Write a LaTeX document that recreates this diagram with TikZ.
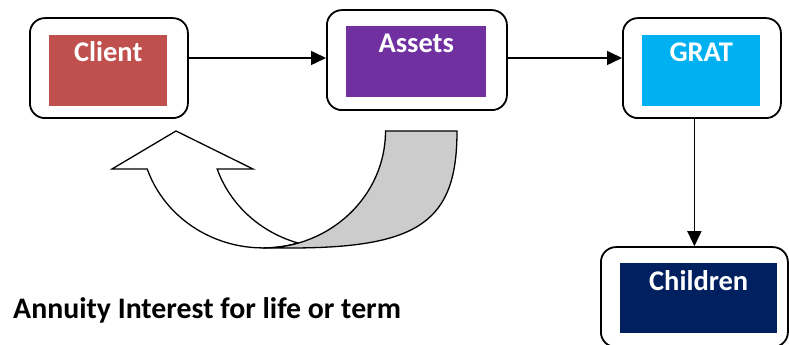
\documentclass[tikz,border=0pt]{standalone}
\usepackage{fontspec}
\setmainfont{Carlito}
\usetikzlibrary{arrows.meta}
\definecolor{clientred}{HTML}{C0504D}
\definecolor{assetpurple}{HTML}{7030A0}
\definecolor{gratblue}{HTML}{00B0F0}
\definecolor{childnavy}{HTML}{002060}
\definecolor{bandgray}{HTML}{CCCCCC}
\begin{document}
\begin{tikzpicture}[x=1pt,y=1pt,
  frame/.style={draw=black, line width=1.8pt, rounded corners=15pt, fill=white,
    inner sep=0pt, anchor=south west},
  panel/.style={fill=#1, draw=none, inner sep=0pt, anchor=south west},
  label/.style={text=white, font=\fontsize{28.5}{30}\selectfont\bfseries, anchor=base, inner sep=0pt},
  flow/.style={draw=black, line width=1.5pt, -{Triangle[length=15pt,width=14pt]}},
  band/.style={draw=black, line width=1.3pt, line join=miter}]
\useasboundingbox (0,0) rectangle (789,345);
\clip (0,0) rectangle (789,345);

% outer rounded frames
\node[frame, minimum width=158pt, minimum height=100pt] (client) at (29,226) {};
\node[frame, minimum width=180pt, minimum height=100pt] (assets) at (326,234) {};
\node[frame, minimum width=158pt, minimum height=100pt] (grat) at (622,226) {};
\node[frame, minimum width=187pt, minimum height=100pt] (children) at (600,-3) {};

% coloured panels inside the frames
\node[panel=clientred, minimum width=118pt, minimum height=71pt] (clientin) at (49,239) {};
\node[panel=assetpurple, minimum width=140pt, minimum height=71pt] (assetsin) at (346,248) {};
\node[panel=gratblue, minimum width=118pt, minimum height=71pt] (gratin) at (642,239) {};
\node[panel=childnavy, minimum width=157pt, minimum height=70pt] (childin) at (620,12) {};

% panel titles
\node[label] (clientlbl) at ([yshift=-27pt]clientin.north) {Client};
\node[label] (assetslbl) at ([yshift=-27pt]assetsin.north) {Assets};
\node[label] (gratlbl) at ([yshift=-27pt]gratin.north) {GRAT};
\node[label] (childlbl) at ([yshift=-28pt]childin.north) {Children};

% flow connectors
\coordinate (row) at (0,287);
\draw[flow] (client.east |- row) -- (assets.west |- row);
\draw[flow] (assets.east |- row) -- (grat.west |- row);
\draw[flow] (grat.south -| children.north) -- (children.north);

% curved return arrow: white front with head
\filldraw[band, fill=white] (147.2,176)
  arc[start angle=199, end angle=286.6, x radius=122.5pt, y radius=117pt]
  arc[start angle=253.4, end angle=199, x radius=122.5pt, y radius=117pt]
  -- (253,176) -- (176,214) -- (112,176) -- cycle;
% grey back of the band
\filldraw[band, fill=bandgray] (386,214) -- (457,214)
  .. controls (457,124) and (420,97) .. (290,97) -- (263,97)
  arc[start angle=270, end angle=360, x radius=122.5pt, y radius=117pt] -- cycle;

% caption
\node[anchor=base west, inner sep=0pt, font=\fontsize{29.8}{32}\selectfont\bfseries] (note) at (13,26)
  {Annuity Interest for life or term};
\end{tikzpicture}
\end{document}
